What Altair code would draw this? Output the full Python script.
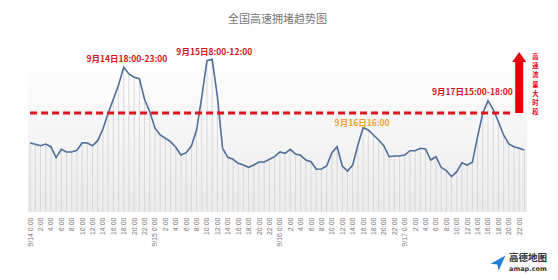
import altair as alt
import pandas as pd

days = ["9/14", "9/15", "9/16", "9/17"]
# hourly congestion index, 0:00 .. 23:00 for each day
day14 = [69, 67.7, 66.3, 68, 65.3, 54.3, 62.7, 60, 60, 61.7, 69.3, 69, 66.3, 71.3, 83, 98.7,
         112.7, 127, 144.7, 138, 134.7, 133.3, 112.7, 100.3]
day15 = [84, 77, 73.7, 70.3, 64.7, 57, 59.3, 66, 82, 115.3, 151.3, 152.7, 115.3, 63.7, 54.7, 52.7,
         48.7, 47, 44.7, 47, 50, 50, 52.7, 55.3]
day16 = [60, 58.7, 62.7, 58, 56.7, 52, 50.3, 42.7, 43, 46, 59.3, 65.3, 46, 41, 47, 67,
         84.3, 82, 77, 72, 66, 55.3, 56, 56]
day17 = [57, 61.3, 61.3, 63.7, 63, 52, 55.3, 44.7, 41.3, 35.3, 40.3, 49.3, 47, 49.7, 75.3, 98.7,
         111.3, 102.7, 90.3, 77, 68, 65.3, 63.7, 62]
threshold = 99

tick_labels = []
for d in days:
    for h in range(0, 24, 2):
        tick_labels.append(f"{d} {h}:00" if h == 0 else f"{h}:00")

ann_text = ["9月14日18:00-23:00", "9月15日8:00-12:00", "9月16日16:00", "9月17日15:00-18:00"]
ann_x = [18.6, 35.4, 63.8, 85.0]
ann_y = [153, 160, 89, 120]
ann_color = ["#d7141a", "#d7141a", "#f0a030", "#d7141a"]

side_chars = list("高速流量大时段")
side_y = [155 - 9.2 * k for k in range(len(side_chars))]

values = day14 + day15 + day16 + day17
df = pd.DataFrame({"i": list(range(len(values))), "v": values, "z": [0] * len(values)})

W, H = 499, 162
CJK = "Noto Sans CJK SC"

xs = alt.Scale(domain=[-0.4, 95.5], nice=False, zero=False)
ys = alt.Scale(domain=[0, 162], nice=False)

label_js = "[" + ",".join(f"'{t}'" for t in tick_labels) + "]"
xaxis = alt.Axis(values=list(range(0, 96, 2)), labelExpr=f"{label_js}[datum.value/2]",
                 labelAngle=270, labelFontSize=7, labelColor="#777", labelFont="Liberation Sans",
                 domain=False, ticks=False, grid=False, labelPadding=5, title=None,
                 labelOverlap=False, labelBound=False, labelFlush=False)


def X(field):
    return alt.X(field, scale=xs, axis=xaxis)


def Y(field):
    return alt.Y(field, scale=ys, axis=None)


bg = alt.Chart(pd.DataFrame({"a": [0]})).mark_rect(
    color=alt.Gradient(gradient="linear", x1=0, y1=0, x2=0, y2=1,
                       stops=[alt.GradientStop(color="#ffffff", offset=0),
                              alt.GradientStop(color="#ebebeb", offset=1)])
).encode(x=alt.value(0), x2=alt.value(W), y=alt.value(8), y2=alt.value(H))

drops = alt.Chart(df).mark_rule(color="#d0d0d0", strokeWidth=0.8).encode(
    x=X("i:Q"), y=Y("v:Q"), y2="z:Q",
)

line = alt.Chart(df).mark_line(color="#4e6f99", strokeWidth=1.6).encode(
    x=X("i:Q"), y=Y("v:Q")
)

thr = alt.Chart(pd.DataFrame({"x0": [0], "x1": [93], "y": [threshold]})).mark_rule(
    color="#e0141e", strokeWidth=3, strokeDash=[7, 4]
).encode(x=X("x0:Q"), x2="x1:Q", y=Y("y:Q"))

ann = alt.Chart(pd.DataFrame({"t": ann_text, "x": ann_x, "y": ann_y, "c": ann_color})).mark_text(
    font=CJK, fontSize=8.5, fontWeight="bold", baseline="middle", align="center"
).encode(x=X("x:Q"), y=Y("y:Q"), text="t:N", color=alt.Color("c:N", scale=None))

arrow_body = alt.Chart(pd.DataFrame({"x": [94], "y0": [threshold], "y1": [152]})).mark_rule(
    color="#e8000b", strokeWidth=8
).encode(x=X("x:Q"), y=Y("y0:Q"), y2="y1:Q")

arrow_head = alt.Chart(pd.DataFrame({"x": [94], "y": [155]})).mark_point(
    shape="M-1,0.7L0,-0.7L1,0.7Z", size=196, filled=True, color="#e8000b", opacity=1
).encode(x=X("x:Q"), y=Y("y:Q"))

vtext = alt.Chart(pd.DataFrame({"x": [97.1] * len(side_chars), "y": side_y, "t": side_chars})).mark_text(
    font=CJK, fontSize=6.3, fontWeight="bold", color="#e8000b", baseline="middle", align="center"
).encode(x=X("x:Q"), y=Y("y:Q"), text="t:N")

title = alt.Chart(pd.DataFrame({"t": ["全国高速拥堵趋势图"]})).mark_text(
    font=CJK, fontSize=11, color="#777777", align="center", baseline="middle"
).encode(x=alt.value(W / 2), y=alt.value(-30), text="t:N")

logo_icon = alt.Chart(pd.DataFrame({"a": [0]})).mark_point(
    shape="M-1,0.1L1,-1L0.1,1L-0.1,0.2Z", size=220, filled=True, color="#1f7fd6", opacity=1
).encode(x=alt.value(470), y=alt.value(213))
logo_t1 = alt.Chart(pd.DataFrame({"t": ["高德地图"]})).mark_text(
    font=CJK, fontSize=9.5, fontWeight="bold", color="#333333", align="left", baseline="middle"
).encode(x=alt.value(481), y=alt.value(208), text="t:N")
logo_t2 = alt.Chart(pd.DataFrame({"t": ["amap.com"]})).mark_text(
    font="DejaVu Sans", fontSize=6.5, fontWeight="bold", color="#333333", align="left", baseline="middle"
).encode(x=alt.value(481), y=alt.value(219), text="t:N")

chart = alt.layer(bg, drops, line, thr, ann, arrow_body, arrow_head, vtext, title,
                  logo_icon, logo_t1, logo_t2).properties(
    width=W, height=H,
    autosize=alt.AutoSizeParams(type="none"),
    padding={"left": 28, "top": 50, "right": 31, "bottom": 68},
).configure_view(stroke=None)

chart.save("out.html", embed_options={"renderer": "svg", "actions": False})
